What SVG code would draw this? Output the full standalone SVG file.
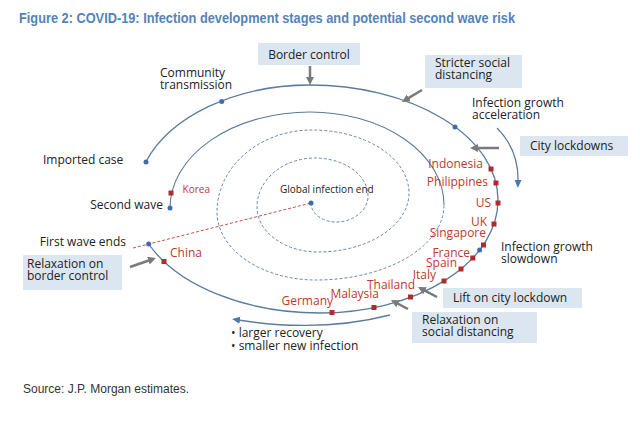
<svg xmlns="http://www.w3.org/2000/svg" width="640" height="424" viewBox="0 0 640 424">
<defs>
<marker id="ga" markerWidth="8" markerHeight="8" refX="2" refY="4" orient="auto" markerUnits="userSpaceOnUse"><path d="M0,0 L8,4 L0,8 z" fill="#7a7a7a"/></marker>
<marker id="ba" markerWidth="8" markerHeight="8" refX="2" refY="4" orient="auto" markerUnits="userSpaceOnUse"><path d="M0,0.5 L8,4 L0,7.5 z" fill="#4a78b0"/></marker>
<style>
.t{font-family:"Open Sans","Liberation Sans",sans-serif;font-size:12px;font-weight:500;fill:#222}
.s{font-size:10px}
.c{font-family:"Open Sans","Liberation Sans",sans-serif;font-size:12px;font-weight:500;fill:#c0392b;text-anchor:end}
.box{fill:#dce6f1}
.sp{fill:none;stroke:#5b7b9f;stroke-width:1.3}
.dash{fill:none;stroke:#6a86a6;stroke-width:1;stroke-dasharray:3 2}
.red{fill:none;stroke:#c0504d;stroke-width:1;stroke-dasharray:3 2}
.dot{fill:#3c6db0}
.mk{fill:#b22a2e}
.ga{stroke:#7a7a7a;stroke-width:2.5;fill:none;marker-end:url(#ga)}
.ba{stroke:#5b7b9f;stroke-width:1.3;fill:none;marker-end:url(#ba)}
</style>
</defs>
<rect width="640" height="424" fill="#ffffff"/>
<text x="19" y="23" font-family="'Liberation Sans',Arial,sans-serif" font-weight="bold" font-size="15" fill="#5483b8" textLength="496" lengthAdjust="spacingAndGlyphs">Figure 2: COVID-19: Infection development stages and potential second wave risk</text>

<g id="connectors">
<path class="sp" d="M145.8,162 A174,115 0 0 1 310,85 A188,115 0 0 1 498,200 A178,113 0 0 1 320,313 A186,113 0 0 1 148.7,244"/>
<path class="dash" d="M311,203 A25,19 0 0 0 336,222 A32,26 0 0 0 368,196 A53,38 0 0 0 315,158 A58,49 0 0 0 257,207 A61,45 0 0 0 318,252 A91,59 0 0 0 409,193 A97,63 0 0 0 312,130 A95,82 0 0 0 217,212 A99,68 0 0 0 316,280 A128,75 0 0 0 444,205"/>
<path class="sp" style="stroke-width:1.1" d="M444,205 A134,93 0 0 0 310,112 A140,96 0 0 0 170,208"/>
<path class="red" d="M133,248 L311,203"/>
<path class="ba" d="M497,128 Q519,150 518,182"/>
<path class="ba" d="M390,315 Q320,333 238,320"/>
<path class="ga" d="M310,66 L310,79"/>
<path class="ga" d="M422,90 L407.1,98.9"/>
<path class="ga" d="M499,148 L476,148"/>
<path class="ga" d="M130,267 L150.3,260"/>
<path class="ga" d="M437,297 L423.3,289.8"/>
<path class="ga" d="M408,309 L396.3,302.8"/>
</g>

<g id="dots">
<circle class="dot" cx="311" cy="203" r="2.5"/>
<circle class="dot" cx="170" cy="208" r="2.5"/>
<circle class="dot" cx="146" cy="162" r="2.5"/>
<circle class="dot" cx="221.7" cy="101.5" r="2.5"/>
<circle class="dot" cx="455" cy="127" r="2.5"/>
<circle class="dot" cx="479.6" cy="250" r="2.5"/>
<circle class="dot" cx="148.7" cy="244" r="2.5"/>
</g>

<g id="markers">
<rect class="mk" x="488.5" y="166.5" width="5" height="5"/>
<rect class="mk" x="493.5" y="180.5" width="5" height="5"/>
<rect class="mk" x="495.5" y="200.5" width="5" height="5"/>
<rect class="mk" x="491.5" y="221.5" width="5" height="5"/>
<rect class="mk" x="481" y="242.5" width="5" height="5"/>
<rect class="mk" x="470.3" y="255.5" width="5" height="5"/>
<rect class="mk" x="458.5" y="266.5" width="5" height="5"/>
<rect class="mk" x="441.5" y="278.5" width="5" height="5"/>
<rect class="mk" x="408" y="294.5" width="5" height="5"/>
<rect class="mk" x="371.5" y="305" width="5" height="5"/>
<rect class="mk" x="329.5" y="310" width="5" height="5"/>
<rect class="mk" x="161.5" y="259" width="5" height="5"/>
<rect class="mk" x="168.5" y="190.5" width="5" height="5"/>
</g>

<g id="n-global"><text class="t s" x="280" y="193">Global infection end</text></g>
<g id="n-imported"><text class="t" x="43" y="164">Imported case</text></g>
<g id="n-community"><text class="t" x="160" y="77">Community</text><text class="t" x="160" y="89">transmission</text></g>
<g id="n-second"><text class="t" x="163" y="209" text-anchor="end">Second wave</text></g>
<g id="n-first"><text class="t" x="126" y="246" text-anchor="end">First wave ends</text></g>
<g id="n-accel"><text class="t" x="472" y="107">Infection growth</text><text class="t" x="472" y="119">acceleration</text></g>
<g id="n-slow"><text class="t" x="501" y="251">Infection growth</text><text class="t" x="501" y="263">slowdown</text></g>
<g id="n-bullets"><text class="t" x="231" y="337">• larger recovery</text><text class="t" x="231" y="350">• smaller new infection</text></g>

<g id="n-border"><rect class="box" x="258" y="43" width="102" height="22"/><text class="t" x="309" y="59" text-anchor="middle">Border control</text></g>
<g id="n-stricter"><rect class="box" x="425" y="55" width="97" height="33"/><text class="t" x="435" y="67">Stricter social</text><text class="t" x="435" y="79">distancing</text></g>
<g id="n-city"><rect class="box" x="520" y="136" width="108" height="20"/><text class="t" x="530" y="150">City lockdowns</text></g>
<g id="n-relborder"><rect class="box" x="23" y="255" width="99" height="35"/><text class="t" x="27" y="268">Relaxation on</text><text class="t" x="27" y="280">border control</text></g>
<g id="n-lift"><rect class="box" x="443" y="288" width="139" height="20"/><text class="t" x="453" y="302">Lift on city lockdown</text></g>
<g id="n-relsocial"><rect class="box" x="412" y="312" width="125" height="31"/><text class="t" x="422" y="324">Relaxation on</text><text class="t" x="422" y="336">social distancing</text></g>

<g id="countries">
<text class="c" x="483" y="168">Indonesia</text>
<text class="c" x="488" y="186">Philippines</text>
<text class="c" x="491" y="207">US</text>
<text class="c" x="487" y="226">UK</text>
<text class="c" x="486" y="237">Singapore</text>
<text class="c" x="470" y="257">France</text>
<text class="c" x="457" y="267">Spain</text>
<text class="c" x="436" y="279">Italy</text>
<text class="c" x="415" y="289">Thailand</text>
<text class="c" x="379" y="298">Malaysia</text>
<text class="c" x="333" y="305">Germany</text>
<text class="c" x="202" y="257">China</text>
<text class="c" x="210" y="193" style="font-size:10px">Korea</text>
</g>

<text x="23" y="393" font-family="'Liberation Sans',Arial,sans-serif" font-size="12" fill="#333" textLength="166" lengthAdjust="spacingAndGlyphs">Source: J.P. Morgan estimates.</text>
</svg>
